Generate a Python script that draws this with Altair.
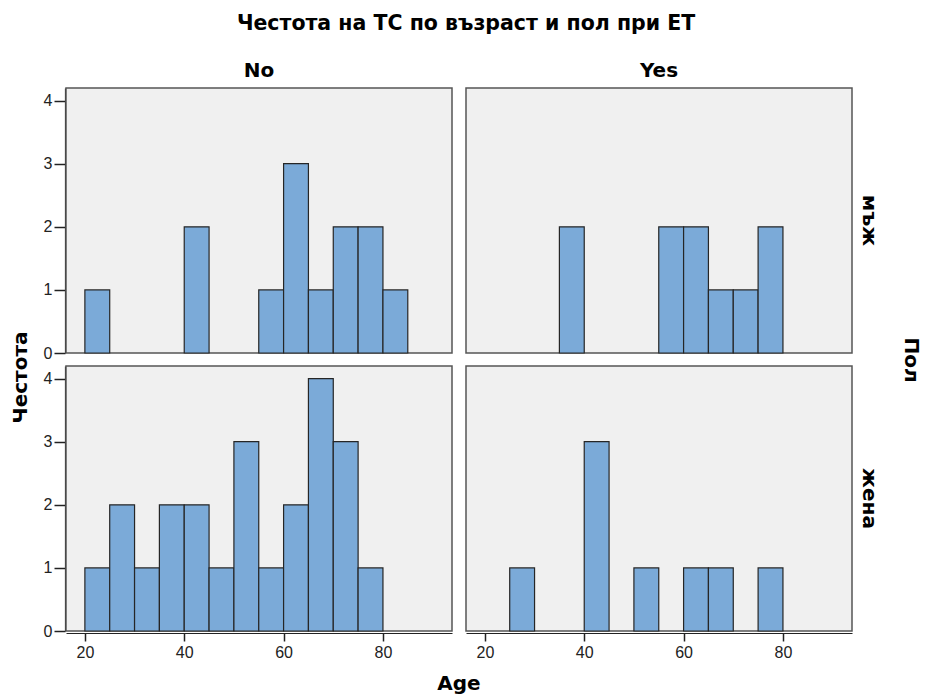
import altair as alt
import pandas as pd

# bins of width 5 years
bin_starts = [20, 25, 30, 35, 40, 45, 50, 55, 60, 65, 70, 75, 80]
bin_width = 5

et_groups = ["No", "Yes"]
sex_groups = ["мъж", "жена"]

counts_no_male = [1, 0, 0, 0, 2, 0, 0, 1, 3, 1, 2, 2, 1]
counts_yes_male = [0, 0, 0, 2, 0, 0, 0, 2, 2, 1, 1, 2, 0]
counts_no_female = [1, 2, 1, 2, 2, 1, 3, 1, 2, 4, 3, 1, 0]
counts_yes_female = [0, 1, 0, 0, 3, 0, 1, 0, 1, 1, 0, 1, 0]

series = {
    ("No", "мъж"): counts_no_male,
    ("Yes", "мъж"): counts_yes_male,
    ("No", "жена"): counts_no_female,
    ("Yes", "жена"): counts_yes_female,
}

rows = []
for (et, sex), counts in series.items():
    for s, c in zip(bin_starts, counts):
        if c > 0:
            rows.append({"et": et, "sex": sex, "start": s, "end": s + bin_width, "count": c})
df = pd.DataFrame(rows)

FONT = "Liberation Sans"
BFONT = "DejaVu Sans"

base = alt.Chart(df).mark_bar(
    fill="#7BAAD8", stroke="#262626", strokeWidth=1.2
).encode(
    x=alt.X("start:Q",
            scale=alt.Scale(domain=[16.2, 93.9], nice=False, zero=False),
            axis=alt.Axis(values=[20, 40, 60, 80], title=None, tickSize=8,
                          labelPadding=3)),
    x2="end:Q",
    y=alt.Y("count:Q",
            scale=alt.Scale(domain=[0, 4.2], nice=False),
            axis=alt.Axis(values=[0, 1, 2, 3, 4], title=None, tickSize=11,
                          labelPadding=2)),
    y2=alt.datum(0),
).properties(width=386, height=265)

facet = base.facet(
    column=alt.Column("et:N", sort=et_groups,
                      header=alt.Header(title="Age", titleOrient="bottom",
                                        labelOrient="top",
                                        labelFontSize=20, labelFontWeight="bold",
                                        labelFont=BFONT, labelColor="#000",
                                        labelPadding=6,
                                        titleFontSize=20, titleFontWeight="bold",
                                        titleFont=BFONT, titleColor="#000",
                                        titlePadding=4)),
    row=alt.Row("sex:N", sort=sex_groups,
                header=alt.Header(title="Пол", titleOrient="right",
                                  labelOrient="right", labelAngle=90, titleAngle=90,
                                  labelFontSize=20, labelFontWeight="bold",
                                  labelFont=BFONT, labelColor="#000",
                                  labelPadding=6,
                                  titleFontSize=20, titleFontWeight="bold",
                                  titleFont=BFONT, titleColor="#000",
                                  titlePadding=12)),
    spacing={"row": 10, "column": 12},
    title=alt.TitleParams("Честота", orient="left", anchor="middle", fontSize=20,
                          fontWeight="bold", font=BFONT, color="#000", offset=12),
)

chart = alt.vconcat(
    facet,
    title=alt.TitleParams("Честота на ТС по възраст и пол при ЕТ", fontSize=20.5,
                          fontWeight="bold", font=BFONT, color="#000",
                          anchor="middle", offset=27),
).properties(
    padding={"left": 11, "top": 13, "right": 4, "bottom": 0},
    background="white",
).configure_view(
    fill="#F0F0F0", stroke="#555555", strokeWidth=1.5
).configure_axis(
    domainColor="#222222", tickColor="#222222", labelColor="#222222",
    labelFont=FONT, labelFontSize=16, grid=False, domainWidth=1.2, tickWidth=1.5
)

chart.save("out.html", embed_options={"renderer": "svg", "actions": False})
